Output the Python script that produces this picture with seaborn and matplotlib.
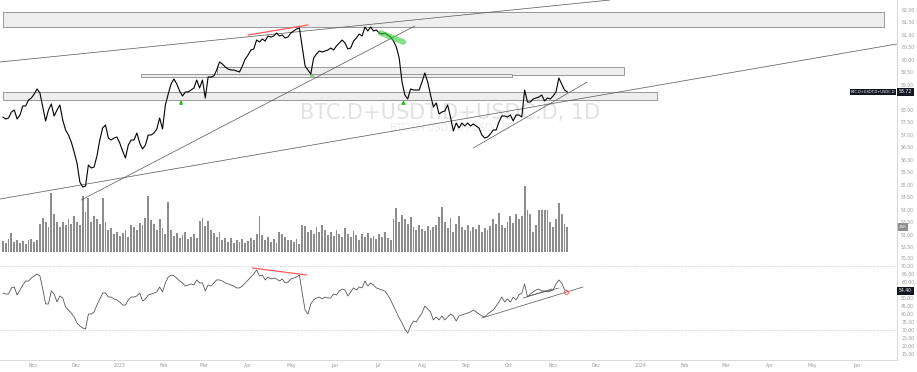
import numpy as np
import pandas as pd
import matplotlib
matplotlib.use("Agg")
import matplotlib.pyplot as plt
import matplotlib.dates as mdates
from matplotlib.patches import Arc, Rectangle
import seaborn as sns

# ==========================
#  Data (BTC.D + USDT.D + USDC.D, sampled every 2 days)
# ==========================
start_date = "2022-10-11"

price = [
    57.72, 57.64, 57.68, 57.92, 58.00, 57.64, 57.80, 58.16, 58.16, 58.40,
    58.48, 58.64, 58.84, 58.68, 58.12, 57.56, 58.00, 58.24, 57.76, 58.00,
    58.20, 57.60, 57.20, 57.00, 56.72, 56.32, 55.88, 55.12, 54.92, 54.96,
    55.80, 55.68, 55.72, 56.16, 56.80, 57.28, 57.40, 56.88, 56.80, 56.88,
    56.92, 56.68, 56.36, 56.08, 56.60, 56.80, 56.80, 57.08, 56.68, 56.44,
    56.60, 57.00, 57.00, 57.08, 57.24, 57.68, 57.24, 58.20, 58.64, 59.04,
    59.24, 59.04, 58.76, 58.56, 58.72, 58.72, 58.80, 58.88, 59.20, 58.88,
    59.20, 58.48, 59.32, 59.32, 59.36, 59.60, 59.92, 59.84, 59.72, 59.64,
    59.60, 59.60, 59.56, 59.52, 59.76, 60.04, 60.20, 60.40, 60.44, 60.80,
    60.72, 60.84, 60.76, 60.96, 60.92, 60.96, 61.08, 60.96, 61.00, 60.88,
    60.92, 61.08, 61.16, 61.24, 61.28, 60.52, 59.76, 59.60, 59.44, 60.08,
    60.24, 60.36, 60.32, 60.36, 60.40, 60.48, 60.40, 60.56, 60.68, 60.80,
    60.68, 60.44, 60.48, 60.76, 60.88, 61.04, 60.96, 61.32, 61.16, 61.32,
    61.16, 61.20, 61.08, 61.04, 61.08, 61.00, 60.92, 60.76, 60.52, 60.08,
    59.12, 58.60, 58.44, 58.84, 58.80, 58.80, 58.80, 59.12, 59.48, 59.12,
    58.60, 58.12, 58.28, 57.84, 57.92, 57.96, 58.20, 57.72, 57.16, 57.48,
    57.28, 57.48, 57.36, 57.48, 57.36, 57.44, 57.36, 57.28, 57.00, 56.88,
    56.92, 57.04, 57.20, 57.20, 57.52, 57.76, 57.76, 57.72, 57.80, 57.56,
    57.80, 57.80, 57.72, 58.80, 58.32, 58.32, 58.44, 58.48, 58.52, 58.60,
    58.36, 58.48, 58.44, 58.56, 58.72, 59.28, 59.04, 58.80, 58.72,
]

volume_k = [
    11, 9, 13, 19, 10, 12, 9, 11, 8, 12,
    13, 10, 12, 28, 34, 30, 25, 59, 38, 30,
    25, 30, 27, 33, 28, 36, 30, 27, 56, 40,
    54, 30, 36, 33, 28, 54, 30, 22, 24, 18,
    20, 16, 19, 22, 15, 27, 25, 22, 29, 27,
    34, 56, 32, 28, 22, 33, 24, 18, 50, 22,
    16, 19, 14, 17, 20, 13, 15, 18, 14, 31,
    34, 26, 31, 22, 19, 15, 20, 12, 14, 10,
    14, 9, 12, 10, 13, 9, 11, 14, 12, 18,
    36, 17, 12, 15, 10, 13, 9, 20, 18, 15,
    12, 12, 10, 13, 8, 27, 26, 20, 22, 18,
    25, 20, 27, 22, 17, 20, 16, 22, 18, 15,
    24, 18, 15, 21, 17, 12, 18, 15, 19, 14,
    16, 13, 18, 15, 20, 14, 12, 33, 44, 30,
    37, 33, 28, 35, 25, 22, 27, 23, 21, 26,
    22, 25, 27, 35, 45, 30, 24, 34, 20, 28,
    36, 25, 22, 27, 21, 25, 23, 27, 20, 24,
    22, 26, 33, 28, 39, 27, 24, 30, 36, 29,
    38, 33, 36, 66, 42, 38, 20, 27, 42, 42,
    42, 42, 30, 25, 33, 49, 38, 28, 25,
]

rsi = [
    53.1, 52.5, 52.5, 56.3, 56.9, 51.9, 55.0, 58.1, 60.6, 60.6,
    62.5, 63.8, 65.0, 63.8, 55.6, 46.3, 46.3, 54.4, 52.5, 47.5,
    51.3, 50.0, 44.4, 42.5, 40.6, 38.1, 34.4, 32.5, 31.3, 30.6,
    40.0, 40.0, 41.3, 45.6, 49.4, 53.1, 53.1, 50.6, 50.6, 49.4,
    48.8, 47.5, 45.6, 45.6, 48.8, 50.6, 50.6, 51.3, 53.1, 48.1,
    49.4, 51.9, 52.5, 53.1, 53.8, 56.9, 53.8, 59.4, 63.1, 64.4,
    63.8, 62.5, 60.6, 59.4, 57.5, 58.1, 58.8, 58.1, 61.3, 59.4,
    59.4, 54.4, 58.1, 57.5, 59.4, 61.3, 61.3, 60.6, 59.4, 58.8,
    58.1, 57.5, 56.3, 56.3, 57.5, 59.4, 61.3, 63.1, 65.0, 67.5,
    63.8, 64.4, 61.3, 63.1, 61.9, 62.5, 61.9, 60.6, 61.9, 59.4,
    60.0, 61.9, 62.5, 63.1, 64.4, 53.1, 42.5, 40.0, 46.3, 48.8,
    50.0, 50.6, 49.4, 50.6, 50.0, 50.0, 52.5, 51.9, 54.4, 55.6,
    55.0, 51.3, 53.8, 56.3, 55.0, 56.9, 56.3, 60.6, 57.5, 59.4,
    58.1, 56.3, 55.6, 55.0, 54.4, 51.9, 48.8, 45.0, 41.3, 37.5,
    34.4, 30.6, 28.1, 32.5, 35.6, 35.0, 38.1, 40.6, 45.0, 43.1,
    41.3, 36.3, 38.1, 36.3, 38.8, 36.3, 38.1, 40.0, 38.8, 35.6,
    38.8, 39.4, 40.0, 40.6, 41.3, 42.5, 41.3, 40.0, 38.8, 38.1,
    40.0, 41.3, 42.5, 45.0, 47.5, 50.6, 47.5, 49.4, 47.5, 50.6,
    48.8, 51.9, 53.1, 58.8, 50.6, 52.5, 53.8, 55.0, 55.6, 54.4,
    54.4, 53.8, 54.4, 55.0, 58.8, 61.3, 59.4, 55.0, 54.4,
]

symbol = "BTC.D+USDT.D+USDC.D"
interval = "1D"

# chart drawings: (start date, end date, low, high)
zones = [
    ("2022-10-11", "2024-06-20", 61.32, 61.92),
    ("2023-03-10", "2023-12-21", 59.40, 59.72),
    ("2023-01-16", "2023-10-03", 59.32, 59.44),
    ("2022-10-11", "2024-01-13", 58.40, 58.72),
]
# trend lines: (date1, value1, date2, value2)
price_lines = [
    ("2022-10-09", 59.92, "2023-12-11", 62.40),
    ("2022-10-09", 54.44, "2024-06-29", 60.64),
    ("2022-12-05", 54.40, "2023-07-27", 61.36),
    ("2023-09-06", 56.48, "2023-11-25", 59.12),
]
price_red = ("2023-04-01", 61.00, "2023-05-13", 61.40)
rsi_lines = [
    ("2023-09-12", 37.5, "2023-11-22", 56.9),
    ("2023-10-11", 50.0, "2023-10-31", 55.6),
    ("2023-10-15", 51.25, "2023-11-05", 56.25),
]
rsi_red = ("2023-04-04", 68.75, "2023-05-12", 64.4)
arrow_dates = ["2023-02-13", "2023-07-19"]

dates = pd.date_range(start_date, periods=len(price), freq="2D")
df = pd.DataFrame({"date": dates, "price": price, "volume": volume_k, "rsi": rsi})

# ==========================
#  Style
# ==========================
sns.set_theme(style="white")
plt.rcParams["font.family"] = ["DejaVu Sans"]
grey_txt = "#9a9a9a"
axis_col = "#d4d4d4"

fig = plt.figure(figsize=(9.17, 3.72), dpi=100)
ax = fig.add_axes([0, 120 / 372, 897 / 917, 252 / 372])
axv = ax.twinx()
axr = fig.add_axes([0, 12 / 372, 897 / 917, 108 / 372], sharex=ax)
ax.set_zorder(axv.get_zorder() + 1)
ax.patch.set_visible(False)

x0 = pd.Timestamp("2022-10-09")
x1 = x0 + pd.Timedelta(days=629.2)

# volume
axv.bar(df["date"], df["volume"], width=1.3, color="#8d8d8d", linewidth=0)
axv.set_ylim(0, 252)
axv.set_yticks([])
axv.grid(False)

# price
sns.lineplot(data=df, x="date", y="price", ax=ax, color="black", lw=0.8, zorder=4)

for d0, d1, lo, hi in zones:
    n0, n1 = mdates.date2num(pd.Timestamp(d0)), mdates.date2num(pd.Timestamp(d1))
    ax.add_patch(Rectangle((n0, lo), n1 - n0, hi - lo, facecolor="#eeeeee",
                           edgecolor="#8a8a8a", lw=0.6, zorder=1))

for d0, v0, d1, v1 in price_lines:
    ax.plot([pd.Timestamp(d0), pd.Timestamp(d1)], [v0, v1], color="#555555", lw=0.5, zorder=2)
ax.plot([pd.Timestamp(price_red[0]), pd.Timestamp(price_red[2])],
        [price_red[1], price_red[3]], color="#ff5a5a", lw=0.9, zorder=5)

# green marks
ax.add_patch(Arc((mdates.date2num(pd.Timestamp("2023-05-16")), 59.76), 28, 0.8,
                 theta1=195, theta2=345, color="#33bb33", lw=0.8, zorder=5))
ax.plot([pd.Timestamp("2023-07-03"), pd.Timestamp("2023-07-19")], [61.08, 60.72],
        color="#33cc33", lw=4, alpha=0.6, solid_capstyle="round", zorder=5)
for d in arrow_dates:
    ax.annotate("", xy=(pd.Timestamp(d), 58.50), xytext=(pd.Timestamp(d), 58.18),
                arrowprops=dict(arrowstyle="-|>", color="#22bb22", lw=0.8, mutation_scale=5))

# watermark
ax.text(450 / 897, 1 - 113 / 252, f"{symbol}, {interval}", transform=ax.transAxes,
        ha="center", va="center", fontsize=15, color="#e2e2e2", zorder=0)
ax.text(450 / 897, 1 - 128 / 252, symbol, transform=ax.transAxes,
        ha="center", va="center", fontsize=7, color="#eaeaea", zorder=0)

last = price[-1]
ax.set_xlim(x0, x1)
ax.set_ylim(62.40 - 0.04 * 252, 62.40)
ax.yaxis.tick_right()
ax.set_yticks(np.arange(52.5, 62.01, 0.5))
ax.yaxis.set_major_formatter(plt.FuncFormatter(
    lambda v, p: "" if abs(v - last) < 0.25 else f"{v:.2f}"))
ax.tick_params(axis="y", labelsize=3.3, labelcolor=grey_txt, length=0, pad=3)
ax.tick_params(axis="x", bottom=False, labelbottom=False)
ax.set_xlabel("")
ax.set_ylabel("")

# last value tags
ax.annotate(f"{last:.2f}", xy=(1.002, last), xycoords=("axes fraction", "data"),
            ha="left", va="center", fontsize=3.3, color="white",
            bbox=dict(boxstyle="square,pad=0.4", fc="#131722", ec="none"), annotation_clip=False)
ax.annotate(symbol, xy=(0.998, last), xycoords=("axes fraction", "data"),
            ha="right", va="center", fontsize=2.6, color="white",
            bbox=dict(boxstyle="square,pad=0.3", fc="#131722", ec="none"), zorder=6)
axv.annotate(f"{volume_k[-1]}K", xy=(1.002, volume_k[-1]), xycoords=("axes fraction", "data"),
             ha="left", va="center", fontsize=3.0, color="white",
             bbox=dict(boxstyle="square,pad=0.4", fc="#8d8d8d", ec="none"), annotation_clip=False)

# RSI pane
sns.lineplot(data=df, x="date", y="rsi", ax=axr, color="#4a4a4a", lw=0.55)
for lvl in (70, 30):
    axr.axhline(lvl, color="#b8b8b8", lw=0.5, ls=(0, (1.5, 2)))
for d0, v0, d1, v1 in rsi_lines:
    axr.plot([pd.Timestamp(d0), pd.Timestamp(d1)], [v0, v1], color="#555555", lw=0.5)
axr.plot([pd.Timestamp(rsi_red[0]), pd.Timestamp(rsi_red[2])],
         [rsi_red[1], rsi_red[3]], color="#ff5a5a", lw=0.9)
axr.plot([pd.Timestamp("2023-11-10")], [53.75], marker="o", ms=3, mfc="none",
         mec="#ff5a5a", mew=0.8, alpha=0.8)
axr.set_ylim(11.25, 78.75)
axr.yaxis.tick_right()
axr.set_yticks(np.arange(15, 76, 5))
axr.yaxis.set_major_formatter(plt.FuncFormatter(
    lambda v, p: "" if abs(v - rsi[-1]) < 3.5 else f"{v:.2f}"))
axr.tick_params(axis="y", labelsize=3.3, labelcolor=grey_txt, length=0, pad=3)
axr.annotate(f"{rsi[-1]:.2f}", xy=(1.002, rsi[-1]), xycoords=("axes fraction", "data"),
             ha="left", va="center", fontsize=3.3, color="white",
             bbox=dict(boxstyle="square,pad=0.4", fc="#131722", ec="none"), annotation_clip=False)

axr.xaxis.set_major_locator(mdates.MonthLocator())
axr.xaxis.set_major_formatter(plt.FuncFormatter(
    lambda v, p: str(mdates.num2date(v).year) if mdates.num2date(v).month == 1
    else mdates.num2date(v).strftime("%b")))
axr.tick_params(axis="x", labelsize=3.3, labelcolor=grey_txt, length=0, pad=2)
axr.set_xlabel("")
axr.set_ylabel("")
axr.set_xlim(x0, x1)

for a in (ax, axv, axr):
    for s in ("top", "left", "bottom"):
        a.spines[s].set_visible(False)
    a.spines["right"].set_color(axis_col)
    a.spines["right"].set_linewidth(0.6)
axr.spines["bottom"].set_visible(True)
axr.spines["bottom"].set_color(axis_col)
axr.spines["bottom"].set_linewidth(0.6)

fig.savefig("out.png", dpi=100, facecolor="white")
